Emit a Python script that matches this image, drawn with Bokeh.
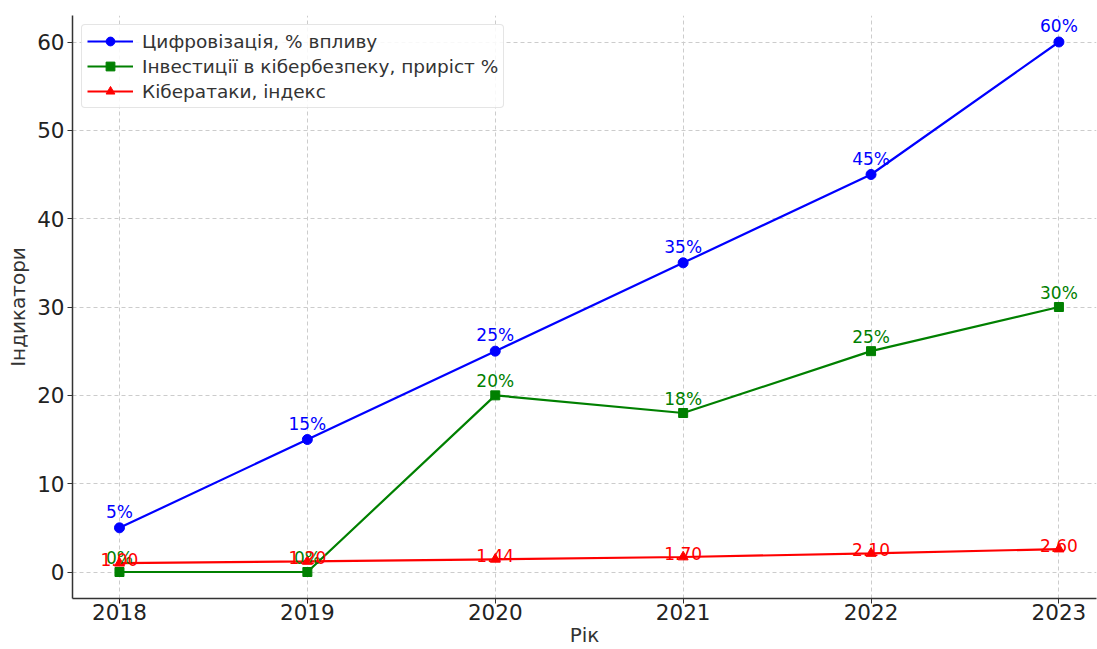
from bokeh.plotting import figure
from bokeh.models import ColumnDataSource, Range1d, Legend, LegendItem, FixedTicker
from bokeh.core.properties import value
from bokeh.embed import file_html
from bokeh.resources import INLINE

years = [2018, 2019, 2020, 2021, 2022, 2023]
digital = [5, 15, 25, 35, 45, 60]
invest = [0, 0, 20, 18, 25, 30]
attacks = [1.00, 1.20, 1.44, 1.70, 2.10, 2.60]

digital_labels = [f"{v}%" for v in digital]
invest_labels = [f"{v}%" for v in invest]
attack_labels = [f"{v:.2f}" for v in attacks]

FONT = "DejaVu Sans"
BLUE = "#0000ff"
GREEN = "#008000"
RED = "#ff0000"

p = figure(width=1097, height=649, output_backend="svg", toolbar_location=None,
           x_range=Range1d(2017.75, 2023.2), y_range=Range1d(-3, 63),
           min_border_left=72, min_border_right=1, min_border_top=15, min_border_bottom=10)
p.outline_line_color = None

src_d = ColumnDataSource(dict(x=years, y=digital, t=digital_labels))
src_i = ColumnDataSource(dict(x=years, y=invest, t=invest_labels))
src_a = ColumnDataSource(dict(x=years, y=attacks, t=attack_labels))

l1 = p.line("x", "y", source=src_d, line_color=BLUE, line_width=2.2)
m1 = p.scatter("x", "y", source=src_d, marker="circle", size=10, fill_color=BLUE, line_color=BLUE)
l2 = p.line("x", "y", source=src_i, line_color=GREEN, line_width=2.2)
m2 = p.scatter("x", "y", source=src_i, marker="square", size=9, fill_color=GREEN, line_color=GREEN)
l3 = p.line("x", "y", source=src_a, line_color=RED, line_width=2.2)
m3 = p.scatter("x", "y", source=src_a, marker="triangle", size=10, fill_color=RED, line_color=RED)

p.text("x", "y", text="t", source=src_d, text_color=BLUE, text_font=value(FONT),
       text_font_size="17px", text_align="center", text_baseline="bottom", y_offset=-6)
p.text("x", "y", text="t", source=src_i, text_color=GREEN, text_font=value(FONT),
       text_font_size="17px", text_align="center", text_baseline="bottom", y_offset=-4)
p.text("x", "y", text="t", source=src_a, text_color=RED, text_font=value(FONT),
       text_font_size="17px", text_align="center", text_baseline="bottom", y_offset=3)

legend = Legend(items=[
    LegendItem(label="Цифровізація, % впливу", renderers=[l1, m1]),
    LegendItem(label="Інвестиції в кібербезпеку, приріст %", renderers=[l2, m2]),
    LegendItem(label="Кібератаки, індекс", renderers=[l3, m3]),
], location="top_left")
legend.label_text_font = FONT
legend.label_text_font_size = "18.5px"
legend.label_text_color = "#333333"
legend.border_line_color = "#cccccc"
legend.border_radius = 4
legend.background_fill_alpha = 0.85
legend.margin = 9
legend.padding = 5
legend.spacing = 3
legend.glyph_width = 46
legend.label_standoff = 9
legend.label_height = 22
legend.glyph_height = 22
p.add_layout(legend)

p.xaxis.ticker = FixedTicker(ticks=years)
p.yaxis.ticker = FixedTicker(ticks=[0, 10, 20, 30, 40, 50, 60])
p.xaxis.axis_label = "Рік"
p.yaxis.axis_label = "Індикатори"
for ax in (p.xaxis, p.yaxis):
    ax.axis_label_text_font = FONT
    ax.axis_label_text_font_style = "normal"
    ax.axis_label_text_font_size = "20px"
    ax.axis_label_text_color = "#333333"
    ax.major_label_text_font = FONT
    ax.major_label_text_font_size = "21.5px"
    ax.major_label_text_color = "#222222"
    ax.axis_line_color = "#333333"
    ax.axis_line_width = 1.5
    ax.major_tick_line_color = "#333333"
    ax.major_tick_in = 0
    ax.major_tick_out = 5
    ax.minor_tick_line_color = None
    ax.major_label_standoff = 3
p.xaxis.major_label_standoff = 0
p.xaxis.axis_label_standoff = 0
p.yaxis.axis_label_standoff = 4

p.grid.grid_line_color = "#cccccc"
p.grid.grid_line_dash = "4 3"
p.grid.grid_line_width = 1

open("out.html", "w").write(file_html(p, INLINE))
